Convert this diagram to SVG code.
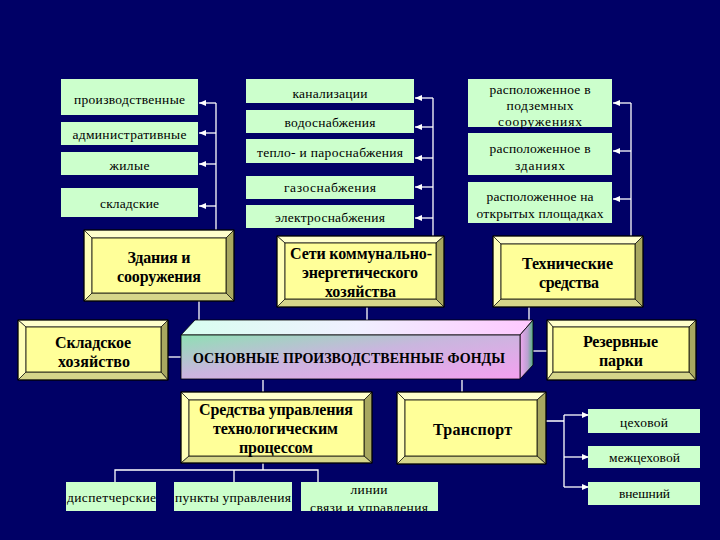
<svg xmlns="http://www.w3.org/2000/svg" width="720" height="540" viewBox="0 0 720 540">
<defs>
<style>
.g{fill:#CCFFCC}
.t{font-family:"Liberation Serif","DejaVu Serif",serif;font-size:13.5px;fill:#000;text-anchor:middle}
.b{font-family:"Liberation Serif","DejaVu Serif",serif;font-size:16px;font-weight:bold;fill:#000;text-anchor:middle}
.bt{fill:#FFFFCC;stroke:#000;stroke-width:0.6}
.bl{fill:#FFFFB8;stroke:#000;stroke-width:0.6}
.br{fill:#A8A860;stroke:#000;stroke-width:0.6}
.bb{fill:#D6D68A;stroke:#000;stroke-width:0.6}
.bi{fill:#FFFF99;stroke:#000;stroke-width:0.8}
.bo{fill:none;stroke:#000;stroke-width:1}
.c{stroke:#FFF;stroke-width:1.3;fill:none}
.a{stroke:#FFF;stroke-width:1.3;fill:none;marker-end:url(#ar)}
</style>
<marker id="ar" markerUnits="userSpaceOnUse" markerWidth="8" markerHeight="8" refX="7" refY="4" orient="auto">
<path d="M0,1 L7,4 L0,7 Z" fill="#FFF"/>
</marker>
<linearGradient id="gf" x1="0" y1="0" x2="1" y2="1">
<stop offset="0" stop-color="#8FE0B4"/>
<stop offset="0.45" stop-color="#C9B6DE"/>
<stop offset="1" stop-color="#F4A0F0"/>
</linearGradient>
<linearGradient id="gt" x1="0" y1="0" x2="1" y2="0">
<stop offset="0" stop-color="#D8FFF0"/>
<stop offset="0.5" stop-color="#F0F0FF"/>
<stop offset="1" stop-color="#FFC8FF"/>
</linearGradient>
<linearGradient id="gr" x1="0" y1="0" x2="1" y2="0">
<stop offset="0" stop-color="#F0A8F0"/>
<stop offset="0.6" stop-color="#B8A0D0"/>
<stop offset="1" stop-color="#50B080"/>
</linearGradient>
<clipPath id="clL"><rect x="301" y="482" width="137" height="29"/></clipPath>
</defs>
<rect x="0" y="0" width="720" height="540" fill="#000066"/>

<g id="connectors">
<path class="c" d="M216,103 V230"/>
<path class="a" d="M216,103 H199"/>
<path class="a" d="M216,133 H199"/>
<path class="a" d="M216,164 H199"/>
<path class="a" d="M216,206 H199"/>
<path class="c" d="M433,98 V236"/>
<path class="a" d="M433,98 H415"/>
<path class="a" d="M433,127 H415"/>
<path class="a" d="M433,158 H415"/>
<path class="a" d="M433,187 H415"/>
<path class="a" d="M433,218 H415"/>
<path class="c" d="M631,103 V236"/>
<path class="a" d="M631,103 H613"/>
<path class="a" d="M631,151 H613"/>
<path class="a" d="M631,199 H613"/>
<path class="c" d="M199,301 V322"/>
<path class="c" d="M367,307 V322"/>
<path class="c" d="M529,307 V322"/>
<path class="c" d="M168,357 H181"/>
<path class="c" d="M533,351 H547"/>
<path class="c" d="M263,380 V392"/>
<path class="c" d="M462,380 V392"/>
<path class="c" d="M263,463 V470 M115,482 V470 H318 V482 M234,470 V482"/>
<path class="c" d="M546,421 H564 M564,415 V487"/>
<path class="a" d="M564,415 H589"/>
<path class="a" d="M564,457 H589"/>
<path class="a" d="M564,487 H589"/>
</g>

<g id="n-proizv"><rect class="g" x="61" y="79" width="137" height="36"/><text class="t" x="129.5" y="104" textLength="111">производственные</text></g>
<g id="n-admin"><rect class="g" x="61" y="122" width="137" height="23"/><text class="t" x="129.5" y="139" textLength="114">административные</text></g>
<g id="n-zhil"><rect class="g" x="61" y="152" width="137" height="23"/><text class="t" x="129.5" y="170" textLength="40">жилые</text></g>
<g id="n-sklad"><rect class="g" x="61" y="188" width="137" height="29"/><text class="t" x="129.5" y="208" textLength="59">складские</text></g>

<g id="n-kanal"><rect class="g" x="246" y="79" width="168" height="24"/><text class="t" x="330" y="98" textLength="75">канализации</text></g>
<g id="n-vodo"><rect class="g" x="246" y="110" width="168" height="23"/><text class="t" x="330" y="127" textLength="91">водоснабжения</text></g>
<g id="n-teplo"><rect class="g" x="246" y="139" width="168" height="24"/><text class="t" x="330" y="157" textLength="146">тепло- и пароснабжения</text></g>
<g id="n-gazo"><rect class="g" x="246" y="176" width="168" height="23"/><text class="t" x="330" y="192" textLength="92">газоснабжения</text></g>
<g id="n-elektro"><rect class="g" x="246" y="205" width="168" height="23"/><text class="t" x="330" y="222" textLength="110">электроснабжения</text></g>

<g id="n-podz"><rect class="g" x="468" y="79" width="144" height="48"/><text class="t" x="540" y="94" textLength="101">расположенное в</text><text class="t" x="540" y="110" textLength="67">подземных</text><text class="t" x="540" y="126" textLength="84">сооружениях</text></g>
<g id="n-zdan"><rect class="g" x="468" y="133" width="144" height="42"/><text class="t" x="540" y="153" textLength="101">расположенное в</text><text class="t" x="540" y="170" textLength="50">зданиях</text></g>
<g id="n-otkr"><rect class="g" x="468" y="182" width="144" height="41"/><text class="t" x="540" y="201" textLength="107">расположенное на</text><text class="t" x="540" y="218" textLength="127">открытых площадках</text></g>

<g id="n-zdaniya">
<polygon class="bt" points="84,230 234,230 226,238 92,238"/>
<polygon class="bl" points="84,230 92,238 92,293 84,301"/>
<polygon class="br" points="234,230 234,301 226,293 226,238"/>
<polygon class="bb" points="84,301 92,293 226,293 234,301"/>
<rect class="bi" x="92" y="238" width="134" height="55"/>
<rect class="bo" x="84" y="230" width="150" height="71"/>
<text class="b" x="159" y="263" textLength="63">Здания и</text>
<text class="b" x="159" y="282" textLength="84">сооружения</text>
</g>

<g id="n-seti">
<polygon class="bt" points="277,236 444,236 436,243 285,243"/>
<polygon class="bl" points="277,236 285,243 285,299 277,307"/>
<polygon class="br" points="444,236 444,307 436,299 436,243"/>
<polygon class="bb" points="277,307 285,299 436,299 444,307"/>
<rect class="bi" x="285" y="243" width="151" height="56"/>
<rect class="bo" x="277" y="236" width="167" height="71"/>
<text class="b" x="361" y="259" textLength="142">Сети коммунально-</text>
<text class="b" x="360" y="278" textLength="116">энергетического</text>
<text class="b" x="360.5" y="297" textLength="71">хозяйства</text>
</g>

<g id="n-tehn">
<polygon class="bt" points="493,236 643,236 635,244 501,244"/>
<polygon class="bl" points="493,236 501,244 501,299 493,307"/>
<polygon class="br" points="643,236 643,307 635,299 635,244"/>
<polygon class="bb" points="493,307 501,299 635,299 643,307"/>
<rect class="bi" x="501" y="244" width="134" height="55"/>
<rect class="bo" x="493" y="236" width="150" height="71"/>
<text class="b" x="567.5" y="269" textLength="91">Технические</text>
<text class="b" x="569" y="288" textLength="60">средства</text>
</g>

<g id="n-skladh">
<polygon class="bt" points="18,320 168,320 161,327 26,327"/>
<polygon class="bl" points="18,320 26,327 26,372 18,380"/>
<polygon class="br" points="168,320 168,380 161,372 161,327"/>
<polygon class="bb" points="18,380 26,372 161,372 168,380"/>
<rect class="bi" x="26" y="327" width="135" height="45"/>
<rect class="bo" x="18" y="320" width="150" height="60"/>
<text class="b" x="93" y="348" textLength="76">Складское</text>
<text class="b" x="94" y="367" textLength="72">хозяйство</text>
</g>

<g id="n-rezerv">
<polygon class="bt" points="547,320 696,320 689,327 553,327"/>
<polygon class="bl" points="547,320 553,327 553,372 547,380"/>
<polygon class="br" points="696,320 696,380 689,372 689,327"/>
<polygon class="bb" points="547,380 553,372 689,372 696,380"/>
<rect class="bi" x="553" y="327" width="136" height="45"/>
<rect class="bo" x="547" y="320" width="149" height="60"/>
<text class="b" x="620.5" y="347" textLength="75">Резервные</text>
<text class="b" x="621" y="366" textLength="44">парки</text>
</g>

<g id="n-osnov">
<polygon points="181,335 195,320 533,320 520,335" fill="url(#gt)" stroke="#000" stroke-width="0.8"/>
<polygon points="520,335 533,320 533,365 520,379" fill="url(#gr)" stroke="#000" stroke-width="0.8"/>
<rect x="181" y="335" width="339" height="44" fill="url(#gf)" stroke="#000" stroke-width="0.8"/>
<text x="349" y="363" font-family="Liberation Serif, DejaVu Serif, serif" font-size="14" font-weight="bold" text-anchor="middle" textLength="312">ОСНОВНЫЕ ПРОИЗВОДСТВЕННЫЕ ФОНДЫ</text>
</g>

<g id="n-sredstva">
<polygon class="bt" points="181,392 372,392 364,400 189,400"/>
<polygon class="bl" points="181,392 189,400 189,456 181,463"/>
<polygon class="br" points="372,392 372,463 364,456 364,400"/>
<polygon class="bb" points="181,463 189,456 364,456 372,463"/>
<rect class="bi" x="189" y="400" width="175" height="56"/>
<rect class="bo" x="181" y="392" width="191" height="71"/>
<text class="b" x="276" y="415" textLength="154">Средства управления</text>
<text class="b" x="275.5" y="434" textLength="125">технологическим</text>
<text class="b" x="276" y="453" textLength="74">процессом</text>
</g>

<g id="n-transp">
<polygon class="bt" points="397,392 546,392 537,400 405,400"/>
<polygon class="bl" points="397,392 405,400 405,456 397,464"/>
<polygon class="br" points="546,392 546,464 537,456 537,400"/>
<polygon class="bb" points="397,464 405,456 537,456 546,464"/>
<rect class="bi" x="405" y="400" width="132" height="56"/>
<rect class="bo" x="397" y="392" width="149" height="72"/>
<text class="b" x="472.5" y="435" textLength="79">Транспорт</text>
</g>

<g id="n-disp"><rect class="g" x="66" y="482" width="90" height="29"/><text class="t" x="111.5" y="502" textLength="89">диспетчерские</text></g>
<g id="n-punkty"><rect class="g" x="174" y="482" width="118" height="29"/><text class="t" x="233" y="502" textLength="116">пункты управления</text></g>
<g id="n-linii"><rect class="g" x="301" y="482" width="137" height="29"/><g clip-path="url(#clL)"><text class="t" x="369" y="494" textLength="37">линии</text><text class="t" x="369" y="512" textLength="118">связи и управления</text></g></g>

<g id="n-ceh"><rect class="g" x="588" y="409" width="112" height="24"/><text class="t" x="644" y="427" textLength="48">цеховой</text></g>
<g id="n-mezh"><rect class="g" x="588" y="446" width="112" height="22"/><text class="t" x="644.5" y="462" textLength="71">межцеховой</text></g>
<g id="n-vnesh"><rect class="g" x="588" y="482" width="112" height="23"/><text class="t" x="644.5" y="498" textLength="51">внешний</text></g>
</svg>
